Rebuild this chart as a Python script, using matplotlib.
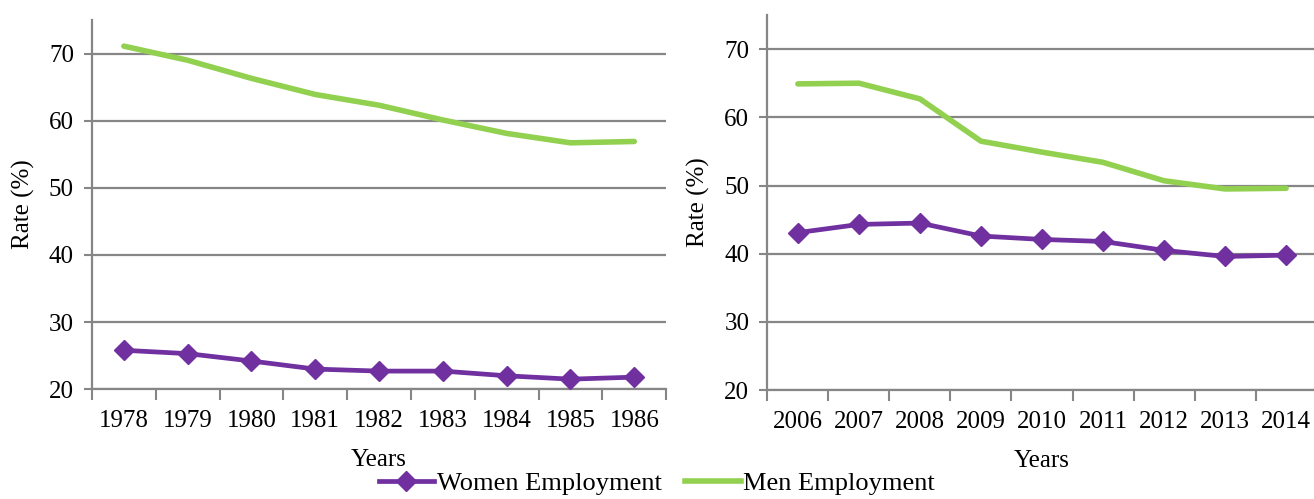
import matplotlib
matplotlib.use('Agg')
import matplotlib.pyplot as plt
from matplotlib.lines import Line2D

## Values
years_early = ['1978', '1979', '1980', '1981', '1982', '1983', '1984', '1985', '1986']
men_early = [71.1, 69.0, 66.3, 63.9, 62.3, 60.1, 58.1, 56.7, 56.9]
women_early = [25.8, 25.3, 24.2, 23.0, 22.7, 22.7, 22.0, 21.5, 21.8]

years_late = ['2006', '2007', '2008', '2009', '2010', '2011', '2012', '2013', '2014']
men_late = [64.9, 65.0, 62.7, 56.5, 54.9, 53.4, 50.7, 49.5, 49.6]
women_late = [43.1, 44.3, 44.5, 42.6, 42.1, 41.8, 40.5, 39.6, 39.8]

purple = '#7030A0'
green = '#92D050'
grey = '#868686'

plt.rcParams['font.family'] = ['Liberation Serif', 'DejaVu Serif']
plt.rcParams['font.size'] = 18

fig = plt.figure(figsize=(13.14, 4.99), dpi=100)
ax1 = fig.add_axes([0.070, 0.220, 0.437, 0.740])
ax2 = fig.add_axes([0.584, 0.218, 0.418, 0.752])


def draw_panel(ax, years, men, women):
    xs = list(range(len(years)))
    ax.plot(xs, men, color=green, lw=4.0, solid_capstyle='round', zorder=3)
    ax.plot(xs, women, color=purple, lw=3.4, marker='D', markersize=10,
            markeredgecolor=purple, zorder=4)

    ax.set_xlim(-0.5, len(years) - 0.5)
    ax.set_ylim(20, 75)
    ax.set_yticks([20, 30, 40, 50, 60, 70])
    ax.yaxis.grid(True, color=grey, lw=1.6)
    ax.set_axisbelow(True)

    ax.set_xticks(xs)
    ax.set_xticklabels(years)
    ax.set_xticks([x - 0.5 for x in range(len(years) + 1)], minor=True)
    ax.tick_params(axis='x', which='major', length=0, pad=15)
    ax.tick_params(axis='x', which='minor', length=8, width=1.5, color=grey)
    ax.tick_params(axis='y', length=6, width=1.5, color=grey, pad=7)

    for side in ['top', 'right']:
        ax.spines[side].set_visible(False)
    for side in ['left', 'bottom']:
        ax.spines[side].set_color(grey)
        ax.spines[side].set_linewidth(1.6)

    ax.set_xlabel('Years', labelpad=12)
    ax.set_ylabel('Rate (%)', labelpad=10)


draw_panel(ax1, years_early, men_early, women_early)
draw_panel(ax2, years_late, men_late, women_late)

handles = [Line2D([], [], color=purple, lw=3.4, marker='D', markersize=10),
           Line2D([], [], color=green, lw=4.0)]
fig.legend(handles, ['Women Employment', 'Men Employment'], loc='center',
           bbox_to_anchor=(0.5, 0.032), ncol=2, frameon=False,
           handlelength=2.1, handletextpad=0.1, columnspacing=0.9,
           fontsize=19)

fig.savefig('out.png', dpi=100)
